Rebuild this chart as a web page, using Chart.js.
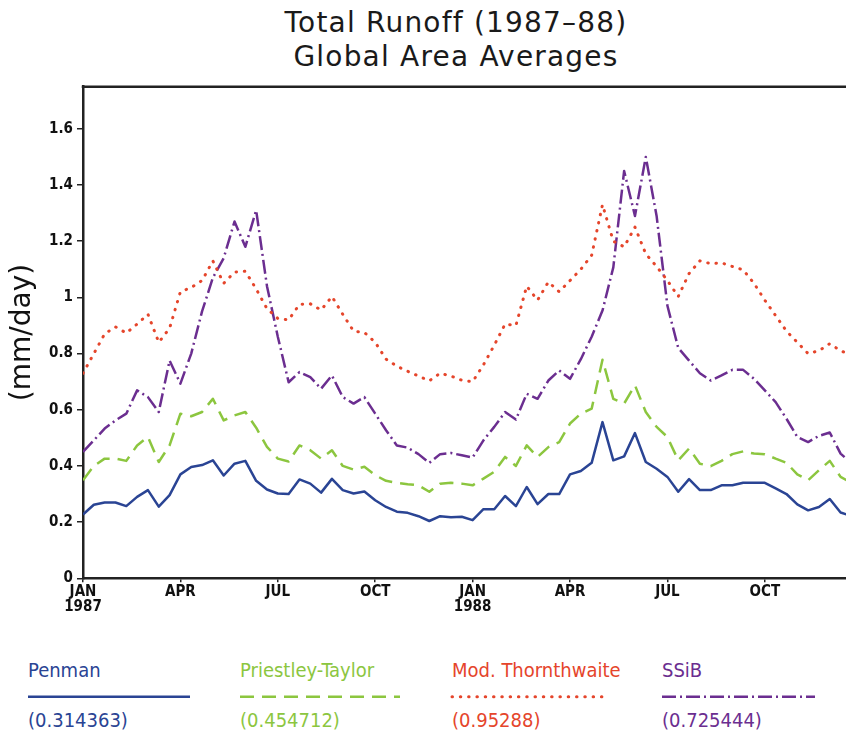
<!DOCTYPE html>
<html>
<head>
<meta charset="utf-8">
<script src="https://cdn.jsdelivr.net/npm/chart.js@4.4.1/dist/chart.umd.min.js"></script>
<style>
  body { margin: 0; background: #fff; }
  #wrap { position: relative; width: 846px; height: 738px; overflow: hidden; background: #fff; }
  #chartBox { position: absolute; left: 0; top: 0; width: 846px; height: 630px; }
  .title { position: absolute; left: 0; width: 912px; text-align: center; font-family: 'DejaVu Sans', sans-serif;
           font-size: 28px; line-height: 28px; letter-spacing: 1.2px; color: #1a1a1a; white-space: nowrap; }
  .key { position: absolute; font-family: 'DejaVu Sans Condensed', 'DejaVu Sans', sans-serif; font-size: 20px; line-height: 20px; white-space: nowrap; }
  .key svg { position: absolute; left: 0; top: 28px; overflow: visible; }
  .key .mean { position: absolute; left: 0; top: 50px; }
</style>
</head>
<body>
<div id="wrap">
  <div class="title" style="top:9px">Total Runoff (1987–88)</div>
  <div class="title" style="top:43px">Global Area Averages</div>
  <div id="chartBox"><canvas id="runoff" width="846" height="630"></canvas></div>
  <div id="legend"></div>
</div>
<script>
// x positions are in months from 1 Jan 1987, three values (dekads) per month
const tickMonths = [0, 3, 6, 9, 12, 15, 18, 21];
const tickNames = ['JAN', 'APR', 'JUL', 'OCT', 'JAN', 'APR', 'JUL', 'OCT'];
const tickYears = ['1987', '', '', '', '1988', '', '', ''];

const seriesNames = ['Penman', 'Priestley-Taylor', 'Mod. Thornthwaite', 'SSiB'];
const seriesMeans = ['0.314363', '0.454712', '0.95288', '0.725444'];

const penman = [
  0.227, 0.262, 0.270, 0.270, 0.257, 0.290, 0.314, 0.255, 0.296, 0.370, 0.396, 0.403,
  0.420, 0.366, 0.408, 0.418, 0.347, 0.316, 0.302, 0.300, 0.352, 0.337, 0.305, 0.354,
  0.314, 0.302, 0.309, 0.278, 0.254, 0.237, 0.233, 0.221, 0.204, 0.221, 0.217, 0.219,
  0.207, 0.246, 0.246, 0.293, 0.257, 0.325, 0.264, 0.300, 0.300, 0.370, 0.382, 0.411,
  0.556, 0.420, 0.434, 0.517, 0.414, 0.390, 0.361, 0.308, 0.353, 0.314, 0.314, 0.331,
  0.331, 0.340, 0.340, 0.340, 0.320, 0.300, 0.263, 0.242, 0.254, 0.282, 0.234, 0.222
];
const priestleyTaylor = [
  0.349, 0.400, 0.426, 0.426, 0.418, 0.473, 0.503, 0.414, 0.473, 0.586, 0.577, 0.592,
  0.639, 0.562, 0.580, 0.592, 0.536, 0.468, 0.426, 0.416, 0.473, 0.456, 0.426, 0.456,
  0.400, 0.387, 0.397, 0.367, 0.347, 0.340, 0.335, 0.331, 0.308, 0.337, 0.340, 0.337,
  0.331, 0.355, 0.379, 0.432, 0.400, 0.473, 0.432, 0.467, 0.485, 0.551, 0.586, 0.604,
  0.778, 0.639, 0.622, 0.687, 0.592, 0.539, 0.503, 0.420, 0.462, 0.408, 0.399, 0.418,
  0.442, 0.452, 0.444, 0.442, 0.426, 0.411, 0.370, 0.349, 0.385, 0.418, 0.361, 0.340
];
const modThornthwaite = [
  0.730, 0.800, 0.870, 0.895, 0.873, 0.905, 0.940, 0.840, 0.890, 1.020, 1.035, 1.060,
  1.130, 1.050, 1.090, 1.093, 1.030, 0.960, 0.925, 0.920, 0.975, 0.977, 0.955, 1.003,
  0.940, 0.880, 0.875, 0.840, 0.780, 0.755, 0.737, 0.720, 0.703, 0.730, 0.720, 0.705,
  0.700, 0.760, 0.830, 0.905, 0.900, 1.040, 0.990, 1.055, 1.020, 1.060, 1.100, 1.150,
  1.330, 1.200, 1.180, 1.250, 1.155, 1.110, 1.060, 1.003, 1.085, 1.130, 1.120, 1.123,
  1.110, 1.098, 1.050, 0.990, 0.935, 0.880, 0.840, 0.800, 0.810, 0.835, 0.810, 0.795
];
const ssib = [
  0.450, 0.491, 0.533, 0.562, 0.586, 0.669, 0.645, 0.592, 0.775, 0.693, 0.800, 0.950,
  1.070, 1.140, 1.270, 1.180, 1.310, 1.040, 0.860, 0.698, 0.734, 0.716, 0.675, 0.722,
  0.645, 0.622, 0.645, 0.586, 0.527, 0.473, 0.465, 0.442, 0.411, 0.442, 0.446, 0.438,
  0.430, 0.491, 0.539, 0.592, 0.565, 0.657, 0.639, 0.704, 0.740, 0.710, 0.780, 0.860,
  0.953, 1.107, 1.450, 1.290, 1.500, 1.290, 0.970, 0.820, 0.775, 0.730, 0.704, 0.722,
  0.742, 0.742, 0.710, 0.669, 0.627, 0.568, 0.503, 0.485, 0.507, 0.519, 0.444, 0.410
];

const seriesValues = [penman, priestleyTaylor, modThornthwaite, ssib];
const lineStyles = [
  { color: '#2a4494', dash: [], cap: 'butt', width: 2.5 },
  { color: '#8cc63f', dash: [14, 8], cap: 'butt', width: 2.5 },
  { color: '#e5452b', dash: [0.5, 7.8], cap: 'round', width: 3 },
  { color: '#6b2e90', dash: [14, 4, 2, 4], cap: 'butt', width: 2.5 }
];
const keyLeft = [28, 240, 452, 662];
const keyWidth = [162, 160, 154, 153];

const axisColor = '#222';
const tickFont = { family: "'DejaVu Sans Condensed', 'DejaVu Sans', sans-serif", size: 15, weight: 'bold', lineHeight: 1.0 };

// top edge of the frame
const frameTop = {
  id: 'frameTop',
  afterDraw(chart) {
    const { ctx, chartArea } = chart;
    ctx.save();
    ctx.strokeStyle = axisColor;
    ctx.lineWidth = 2.5;
    ctx.beginPath();
    ctx.moveTo(chartArea.left - 1.25, chartArea.top);
    ctx.lineTo(chartArea.right, chartArea.top);
    ctx.stroke();
    ctx.restore();
  }
};

new Chart(document.getElementById('runoff'), {
  type: 'line',
  data: {
    datasets: seriesValues.map((vals, k) => ({
      label: seriesNames[k],
      data: vals.map((v, i) => ({ x: i / 3, y: v })),
      borderColor: lineStyles[k].color,
      borderWidth: lineStyles[k].width,
      borderDash: lineStyles[k].dash,
      borderCapStyle: lineStyles[k].cap,
      borderJoinStyle: 'round',
      pointRadius: 0,
      tension: 0,
      fill: false
    }))
  },
  options: {
    responsive: false,
    animation: false,
    events: [],
    layout: { padding: { top: 86.7, right: 0, bottom: 0, left: 0 } },
    plugins: { legend: { display: false }, title: { display: false }, tooltip: { enabled: false } },
    scales: {
      x: {
        type: 'linear',
        min: 0,
        max: 23.5,
        afterFit: s => { s.height = 630 - 578.3; },
        afterBuildTicks: s => { s.ticks = tickMonths.map(v => ({ value: v })); },
        border: { color: axisColor, width: 2.5 },
        grid: { drawOnChartArea: false, drawTicks: true, tickLength: 4, color: axisColor, lineWidth: 1.5 },
        ticks: {
          color: '#111',
          font: tickFont,
          padding: 2,
          maxRotation: 0,
          autoSkip: false,
          callback: (v, idx) => tickYears[idx] ? [tickNames[idx], tickYears[idx]] : tickNames[idx]
        }
      },
      y: {
        min: 0,
        max: 1.75,
        afterFit: s => { s.width = 83; },
        border: { color: axisColor, width: 2.5 },
        grid: { drawOnChartArea: false, drawTicks: true, tickLength: 6, color: axisColor, lineWidth: 1.5 },
        ticks: {
          stepSize: 0.2,
          includeBounds: false,
          color: '#111',
          font: tickFont,
          padding: 4,
          callback: v => String(+v.toFixed(2))
        },
        title: {
          display: true,
          text: '(mm/day)',
          color: '#111',
          font: { family: "'DejaVu Sans', sans-serif", size: 28, weight: 'normal', lineHeight: 1.2 },
          padding: { top: 6, bottom: 0 }
        }
      }
    }
  },
  plugins: [frameTop]
});

// key below the plot: name, line sample, mean value
const legend = document.getElementById('legend');
seriesNames.forEach((name, k) => {
  const st = lineStyles[k];
  const div = document.createElement('div');
  div.className = 'key';
  div.style.left = keyLeft[k] + 'px';
  div.style.top = '660px';
  div.style.color = st.color;
  div.style.width = keyWidth[k] + 'px';
  div.innerHTML = `${name}
    <svg width="${keyWidth[k]}" height="10"><line x1="0" y1="8.7" x2="${keyWidth[k]}" y2="8.7"
      stroke="${st.color}" stroke-width="${st.width}" stroke-linecap="${st.cap}"
      stroke-dasharray="${st.dash.length ? st.dash.join(' ') : 'none'}"/></svg>
    <span class="mean">(${seriesMeans[k]})</span>`;
  legend.appendChild(div);
});
</script>
</body>
</html>
